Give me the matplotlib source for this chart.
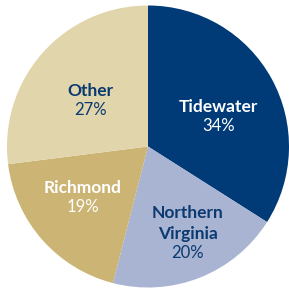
import numpy as np
import matplotlib.pyplot as plt

regions = ["Tidewater", "Northern\nVirginia", "Richmond", "Other"]
shares = [34, 20, 19, 27]
colors = ["#003b78", "#a9b3d2", "#cbb474", "#e1d5ab"]
text_colors = ["white", "#0b3a70", "white", "#0b3a70"]
# label placement: distance from centre (radius units) and angle nudge from wedge bisector
label_dist = [0.543, 0.743, 0.589, 0.527]
label_nudge = [-5.75, 0.6, -3.5, 2.7]

plt.rcParams['font.family'] = ['Lato', 'DejaVu Sans']

fig = plt.figure(figsize=(2.89, 2.88), dpi=100)
ax = fig.add_axes([0, 0, 1, 1])

wedges, _ = ax.pie(shares, colors=colors, startangle=90, counterclock=False,
                   radius=1, wedgeprops=dict(linewidth=0))

px = 72 / fig.dpi  # points per pixel
for w, name, pct, tc, d, nudge in zip(wedges, regions, shares, text_colors,
                                      label_dist, label_nudge):
    mid = np.deg2rad((w.theta1 + w.theta2) / 2 + nudge)
    x, y = d * np.cos(mid), d * np.sin(mid)
    lines = name.split("\n")
    for i, line in enumerate(reversed(lines)):
        ax.annotate(line, (x, y), xytext=(0, (4.5 + 20.5 * i) * px),
                    textcoords="offset points", ha="center", va="baseline",
                    fontsize=12.5, fontweight="bold", color=tc)
    ax.annotate(f"{pct}%", (x, y), xytext=(0, -14.5 * px), textcoords="offset points",
                ha="center", va="baseline", fontsize=12, color=tc)

cx, cy, r = 148, 146.5, 141
W, H = 289, 288
ax.set_xlim(-cx / r, (W - cx) / r)
ax.set_ylim(-(H - cy) / r, cy / r)
ax.set_aspect("auto")
ax.axis("off")

fig.savefig("out.png", dpi=100)
